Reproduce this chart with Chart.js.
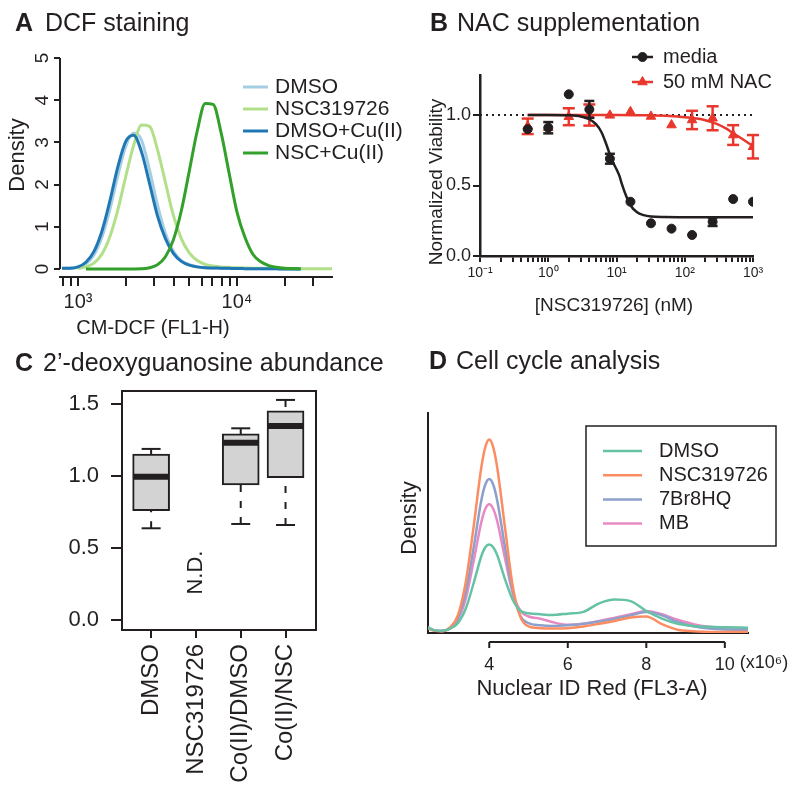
<!DOCTYPE html>
<html>
<head>
<meta charset="utf-8">
<title>Figure</title>
<script src="https://cdn.jsdelivr.net/npm/chart.js@4.4.1/dist/chart.umd.min.js"></script>
<style>
  body { margin: 0; background: #fff; }
  #fig { position: relative; width: 800px; height: 797px; overflow: hidden; font-family: "Liberation Sans", Arial, sans-serif; color: #231f20; }
  #fig canvas { position: absolute; left: 0; top: 0; pointer-events: none; }
  .tag, .ttl { position: absolute; font-size: 25px; line-height: 25px; white-space: nowrap; }
  .tag { font-weight: bold; }
</style>
</head>
<body>
<div id="fig">
  <canvas id="chartA" width="800" height="797"></canvas>
  <canvas id="chartB" width="800" height="797"></canvas>
  <canvas id="chartC" width="800" height="797"></canvas>
  <canvas id="chartD" width="800" height="797"></canvas>
  <div class="tag" style="left:15px;top:10px">A</div>
  <div class="ttl" style="left:45px;top:10px">DCF staining</div>
  <div class="tag" style="left:430px;top:10px">B</div>
  <div class="ttl" style="left:457px;top:10px">NAC supplementation</div>
  <div class="tag" style="left:15px;top:350px">C</div>
  <div class="ttl" style="left:43px;top:350px">2’-deoxyguanosine abundance</div>
  <div class="tag" style="left:429px;top:348px">D</div>
  <div class="ttl" style="left:456px;top:348px">Cell cycle analysis</div>
</div>
<script>
// A: DCF staining, density vs CM-DCF (log axis)
const dcfX = [794, 891, 1000, 1122, 1259, 1413, 1585, 1778, 1995, 2239, 2512, 2818, 3162, 3548, 3981, 4467, 5012, 5623, 6310, 7079, 7943, 8913, 10000, 11220, 12589, 14125, 15849, 17783, 19953, 22387, 25119, 28184, 31623, 35481, 39811];
const dcfDMSO = [0.02, 0.02, 0.04, 0.12, 0.33, 0.75, 1.40, 2.20, 2.90, 3.22, 3.05, 2.35, 1.52, 0.85, 0.42, 0.20, 0.10, 0.05, 0.03, 0.025, 0.02, 0.015, 0.01, 0.008, 0.006, 0.005, 0.004, 0.003, 0.002, 0.001, 0, null, null, null, null];
const dcfNSC = [null, null, 0.014, 0.05, 0.14, 0.35, 0.76, 1.39, 2.18, 2.93, 3.41, 3.38, 2.83, 2.05, 1.27, 0.72, 0.38, 0.20, 0.11, 0.07, 0.05, 0.04, 0.03, 0.025, 0.02, 0.017, 0.015, 0.012, 0.01, 0.008, 0.006, 0.005, 0.004, 0.003, 0.003];
const dcfDMSOCu = [0.02, 0.02, 0.05, 0.16, 0.41, 0.89, 1.60, 2.41, 3.02, 3.17, 2.77, 2.03, 1.26, 0.72, 0.37, 0.18, 0.09, 0.05, 0.03, 0.025, 0.02, 0.015, 0.01, 0.008, 0.006, 0.005, 0.004, 0.003, 0.002, 0.001, 0, null, null, null, null];
const dcfNSCCu = [null, null, null, 0, 0, 0, 0, 0, 0, 0, 0.003, 0.03, 0.10, 0.29, 0.69, 1.38, 2.32, 3.27, 3.92, 3.90, 3.23, 2.28, 1.35, 0.75, 0.35, 0.17, 0.08, 0.04, 0.02, 0.01, 0.005, null, null, null, null];
const dcfLabels = ["DMSO", "NSC319726", "DMSO+Cu(II)", "NSC+Cu(II)"];
const dcfTicks = [800, 900, 1000, 2000, 3000, 4000, 5000, 6000, 7000, 8000, 9000, 10000, 20000, 30000];
const dcfMajor = [1000, 10000];
const dcfMajorLabels = ["10³", "10⁴"];
const densityTicks = [0, 1, 2, 3, 4, 5];

// B: NAC supplementation, viability vs dose (nM)
const nacDose = [0.5, 1, 2, 4, 8, 16, 32, 64, 128, 256, 512, 1000];
const mediaMean = [0.90, 0.91, 1.147, 1.04, 0.69, 0.385, 0.232, 0.194, 0.149, 0.243, 0.404, 0.385];
const mediaErr = [0, 0.04, 0, 0.06, 0.035, 0, 0, 0, 0, 0.03, 0, 0];
const nacMean = [0.92, 0.91, 0.988, 1.0, 0.998, 1.023, 0.99, 0.929, 0.965, 0.977, 0.858, 0.775];
const nacErr = [0.055, 0, 0.06, 0.075, 0, 0, 0, 0, 0.065, 0.085, 0.07, 0.083];
const mediaFitX = [0.5, 1, 2, 3, 4, 5, 6, 7, 8, 9, 10, 11, 12, 14, 16, 20, 25, 32, 50, 100, 1000];
const mediaFitY = [1.0, 1.0, 0.998, 0.99, 0.97, 0.935, 0.88, 0.80, 0.72, 0.66, 0.615, 0.57, 0.51, 0.42, 0.36, 0.31, 0.29, 0.28, 0.276, 0.275, 0.275];
const nacFitX = [0.5, 1, 2, 5, 10, 20, 30, 60, 100, 150, 200, 300, 400, 500, 700, 1000];
const nacFitY = [1.0, 1.0, 1.0, 1.0, 1.0, 0.999, 0.998, 0.993, 0.985, 0.975, 0.963, 0.935, 0.905, 0.875, 0.83, 0.78];
const refX = [0.1, 1000];
const refY = [1, 1];
const nacLabels = ["media", "50 mM NAC"];
const doseTicks = [0.1, 0.2, 0.3, 0.4, 0.5, 0.6, 0.7, 0.8, 0.9, 1, 2, 3, 4, 5, 6, 7, 8, 9, 10, 20, 30, 40, 50, 60, 70, 80, 90, 100, 200, 300, 400, 500, 600, 700, 800, 900, 1000];
const doseMajor = [0.1, 1, 10, 100, 1000];
const doseMajorLabels = ["10⁻¹", "10⁰", "10¹", "10²", "10³"];
const viabTicks = [0, 0.5, 1.0];

// C: 2'-deoxyguanosine abundance (box plots)
const dgCats = ["DMSO", "NSC319726", "Co(II)/DMSO", "Co(II)/NSC"];
const dgLow = [0.637, null, 0.667, 0.66];
const dgQ1 = [0.759, null, 0.9375, 0.988];
const dgMed = [0.995, null, 1.231, 1.347];
const dgQ3 = [1.153, null, 1.292, 1.453];
const dgHigh = [1.188, null, 1.331, 1.528];
const dgTicks = [0, 0.5, 1.0, 1.5];

// D: Cell cycle analysis, density vs Nuclear ID Red (x10^6)
const ccX = [2.44, 2.6, 2.8, 3.0, 3.2, 3.4, 3.6, 3.8, 3.9, 4.0, 4.1, 4.2, 4.4, 4.6, 4.8, 5.0, 5.3, 5.6, 6.0, 6.4, 6.8, 7.2, 7.6, 8.0, 8.4, 8.8, 9.2, 9.6, 10.0, 10.59];
const ccDMSO = [0.025, 0.012, 0.01, 0.02, 0.045, 0.11, 0.225, 0.35, 0.39, 0.402, 0.39, 0.355, 0.245, 0.15, 0.10, 0.09, 0.085, 0.082, 0.088, 0.096, 0.135, 0.152, 0.145, 0.10, 0.065, 0.042, 0.032, 0.028, 0.026, 0.024];
const ccNSC = [0.02, 0.01, 0.008, 0.025, 0.08, 0.23, 0.48, 0.755, 0.845, 0.879, 0.845, 0.755, 0.48, 0.21, 0.07, 0.03, 0.022, 0.02, 0.022, 0.03, 0.042, 0.055, 0.07, 0.075, 0.04, 0.015, 0.008, 0.005, 0.004, 0.004];
const cc7Br = [0.025, 0.012, 0.009, 0.022, 0.07, 0.185, 0.385, 0.605, 0.675, 0.70, 0.675, 0.605, 0.39, 0.19, 0.075, 0.045, 0.035, 0.032, 0.035, 0.042, 0.052, 0.065, 0.08, 0.095, 0.08, 0.05, 0.03, 0.02, 0.016, 0.015];
const ccMB = [0.025, 0.012, 0.009, 0.02, 0.06, 0.155, 0.325, 0.505, 0.565, 0.585, 0.565, 0.51, 0.34, 0.18, 0.10, 0.075, 0.065, 0.05, 0.038, 0.042, 0.055, 0.07, 0.085, 0.10, 0.085, 0.06, 0.04, 0.028, 0.022, 0.02];
const ccLabels = ["DMSO", "NSC319726", "7Br8HQ", "MB"];
const ccTicks = [4, 6, 8, 10];

const FONT = '"Liberation Sans", Arial, Helvetica, sans-serif';
const INK = "#231f20";
const RED = "#e8372c";
Chart.defaults.font.family = FONT;
Chart.defaults.color = INK;

function drawText(ctx, s, x, y, px, opts = {}) {
  ctx.save();
  ctx.font = `${px}px ${FONT}`;
  ctx.fillStyle = opts.color || INK;
  ctx.textAlign = opts.align || "center";
  ctx.textBaseline = "middle";
  ctx.translate(x, y);
  if (opts.rotate) ctx.rotate(opts.rotate);
  ctx.fillText(s, 0, 0);
  ctx.restore();
}

function drawLine(ctx, x1, y1, x2, y2, width, color) {
  ctx.save();
  ctx.beginPath();
  ctx.lineWidth = width;
  ctx.strokeStyle = color || INK;
  ctx.moveTo(x1, y1);
  ctx.lineTo(x2, y2);
  ctx.stroke();
  ctx.restore();
}

function pairs(xs, ys) {
  return xs.map((x, i) => ({ x, y: ys[i] }));
}

function fixedWidth(w) {
  return (scale) => { scale.width = w; };
}
function fixedHeight(h) {
  return (scale) => { scale.height = h; };
}
function setTicks(values) {
  return (scale) => { scale.ticks = values.map((v) => ({ value: v })); };
}
function tickLabel(v, majors, labels) {
  const i = majors.indexOf(v);
  return i < 0 ? "" : labels[i];
}

function baseOptions(padding) {
  return {
    responsive: false,
    animation: false,
    events: [],
    devicePixelRatio: 1,
    layout: { padding },
    plugins: { legend: { display: false }, tooltip: { enabled: false } },
  };
}

function curve(xs, ys, color, width, order) {
  return {
    data: pairs(xs, ys),
    borderColor: color,
    borderWidth: width,
    pointRadius: 0,
    cubicInterpolationMode: "monotone",
    fill: false,
    order,
  };
}

// ---------- A ----------
const dcfColors = ["#a6cee3", "#b2df8a", "#1f78b4", "#33a02c"];
const panelA = {
  id: "panelA",
  afterDraw(chart) {
    const { ctx, chartArea, scales } = chart;
    const y = scales.y;
    drawLine(ctx, chartArea.left, y.getPixelForValue(0), chartArea.left, y.getPixelForValue(5), 2);
    densityTicks.forEach((v) => {
      drawText(ctx, String(v), chartArea.left - 17, y.getPixelForValue(v), 19, { rotate: -Math.PI / 2 });
    });
    drawText(ctx, "Density", 18, 155, 22, { rotate: -Math.PI / 2 });
    drawText(ctx, "CM-DCF (FL1-H)", 153, 328, 20);
    dcfLabels.forEach((name, i) => {
      const ly = 87 + i * 22;
      drawLine(ctx, 243, ly, 268, ly, 3, dcfColors[i]);
      drawText(ctx, name, 275, ly, 21, { align: "left" });
    });
  },
};

new Chart(document.getElementById("chartA"), {
  type: "line",
  data: {
    datasets: [
      curve(dcfX, dcfDMSO, dcfColors[0], 3, 4),
      curve(dcfX, dcfNSC, dcfColors[1], 3, 3),
      curve(dcfX, dcfDMSOCu, dcfColors[2], 3, 2),
      curve(dcfX, dcfNSCCu, dcfColors[3], 3, 1),
    ],
  },
  options: {
    ...baseOptions({ left: 40, top: 58, right: 468, bottom: 480 }),
    scales: {
      x: {
        type: "logarithmic",
        min: 771,
        max: 39580,
        afterBuildTicks: setTicks(dcfTicks),
        afterFit: fixedHeight(40),
        border: { color: INK, width: 2 },
        grid: { drawOnChartArea: false, tickLength: 9, color: INK, lineWidth: 2 },
        ticks: { autoSkip: false, maxRotation: 0, padding: 4, font: { size: 20 }, callback: (v) => tickLabel(v, dcfMajor, dcfMajorLabels) },
      },
      y: {
        type: "linear",
        min: -0.19,
        max: 5,
        afterBuildTicks: setTicks(densityTicks),
        afterFit: fixedWidth(20),
        border: { display: false },
        grid: { drawOnChartArea: false, tickLength: 6, color: INK, lineWidth: 2 },
        ticks: { display: false },
      },
    },
  },
  plugins: [panelA],
});

// ---------- B ----------
const errorBars = {
  id: "errorBars",
  afterDatasetDraw(chart, args) {
    const ds = chart.data.datasets[args.index];
    if (!ds.errors) return;
    const yScale = chart.scales.y;
    const ctx = chart.ctx;
    args.meta.data.forEach((pt, i) => {
      const err = ds.errors[i];
      if (!err) return;
      const v = ds.data[i].y;
      const top = yScale.getPixelForValue(v + err);
      const bot = yScale.getPixelForValue(v - err);
      const half = ds.capWidth / 2;
      drawLine(ctx, pt.x, top, pt.x, bot, 2.5, ds.barColor);
      drawLine(ctx, pt.x - half, top, pt.x + half, top, 2.5, ds.barColor);
      drawLine(ctx, pt.x - half, bot, pt.x + half, bot, 2.5, ds.barColor);
    });
  },
};

const panelB = {
  id: "panelB",
  afterDraw(chart) {
    const { ctx } = chart;
    drawText(ctx, "Normalized Viability", 437, 182, 19, { rotate: -Math.PI / 2 });
    drawText(ctx, "[NSC319726] (nM)", 614, 306, 19);
    const styles = [
      { color: INK, pointStyle: "circle", radius: 4.5 },
      { color: RED, pointStyle: "triangle", radius: 5.5 },
    ];
    nacLabels.forEach((name, i) => {
      const ly = 57 + i * 25;
      const s = styles[i];
      drawLine(ctx, 632, ly, 653, ly, 2.5, s.color);
      ctx.save();
      ctx.fillStyle = s.color;
      ctx.strokeStyle = s.color;
      Chart.helpers.drawPoint(ctx, { pointStyle: s.pointStyle, radius: s.radius, rotation: 0, borderWidth: 1 }, 642.5, ly);
      ctx.restore();
      drawText(ctx, name, 663, ly, 20, { align: "left" });
    });
  },
};

new Chart(document.getElementById("chartB"), {
  type: "line",
  data: {
    datasets: [
      { data: pairs(refX, refY), borderColor: INK, borderWidth: 2, borderDash: [2, 4], pointRadius: 0, order: 9 },
      curve(nacFitX, nacFitY, RED, 2.5, 5),
      {
        type: "scatter",
        data: pairs(nacDose, nacMean),
        pointStyle: "triangle",
        pointRadius: 5.5,
        pointBackgroundColor: RED,
        pointBorderColor: RED,
        errors: nacErr,
        barColor: RED,
        capWidth: 12,
        order: 4,
      },
      curve(mediaFitX, mediaFitY, INK, 2.5, 3),
      {
        type: "scatter",
        data: pairs(nacDose, mediaMean),
        pointStyle: "circle",
        pointRadius: 4.5,
        pointBackgroundColor: INK,
        pointBorderColor: INK,
        errors: mediaErr,
        barColor: INK,
        capWidth: 10,
        order: 1,
      },
    ],
  },
  options: {
    ...baseOptions({ left: 440, top: 75, right: 47, bottom: 511 }),
    scales: {
      x: {
        type: "logarithmic",
        min: 0.1,
        max: 1000,
        afterBuildTicks: setTicks(doseTicks),
        afterFit: fixedHeight(30),
        border: { color: INK, width: 2.5 },
        grid: { drawOnChartArea: false, tickLength: 6, color: INK, lineWidth: 2 },
        ticks: { autoSkip: false, maxRotation: 0, padding: 3, font: { size: 14 }, callback: (v) => tickLabel(v, doseMajor, doseMajorLabels) },
      },
      y: {
        type: "linear",
        min: 0,
        max: 1.284,
        afterBuildTicks: setTicks(viabTicks),
        afterFit: fixedWidth(40),
        border: { color: INK, width: 2.5 },
        grid: { drawOnChartArea: false, tickLength: 7, color: INK, lineWidth: 2 },
        ticks: { padding: 2, font: { size: 18 }, callback: (v) => v.toFixed(1) },
      },
    },
  },
  plugins: [errorBars, panelB],
});

// ---------- C ----------
const boxData = [];
const whiskerData = [];
const capData = [];
const medianData = [];
dgCats.forEach((name, i) => {
  if (dgMed[i] === null) return;
  const x = i + 1;
  boxData.push({ x, y: [dgQ1[i], dgQ3[i]] });
  whiskerData.push({ x, y: dgHigh[i] }, { x, y: dgQ3[i] }, { x, y: null });
  whiskerData.push({ x, y: dgLow[i] }, { x, y: dgQ1[i] }, { x, y: null });
  capData.push({ x, y: dgHigh[i] }, { x, y: dgLow[i] });
  medianData.push({ x, y: dgMed[i] });
});

const panelC = {
  id: "panelC",
  afterDraw(chart) {
    const { ctx, chartArea, scales } = chart;
    ctx.save();
    ctx.lineWidth = 2;
    ctx.strokeStyle = INK;
    ctx.strokeRect(chartArea.left, chartArea.top, chartArea.right - chartArea.left, chartArea.bottom - chartArea.top);
    ctx.restore();
    drawText(ctx, "N.D.", scales.x.getPixelForValue(2), scales.y.getPixelForValue(0.33), 22, { rotate: -Math.PI / 2 });
  },
};

new Chart(document.getElementById("chartC"), {
  type: "bar",
  data: {
    datasets: [
      {
        type: "line",
        data: whiskerData,
        borderColor: INK,
        borderWidth: 2,
        borderDash: [7, 9],
        pointRadius: 0,
        spanGaps: false,
        order: 4,
      },
      {
        data: boxData,
        backgroundColor: "#d3d3d3",
        borderColor: INK,
        borderWidth: 2,
        borderSkipped: false,
        barThickness: 37,
        order: 3,
      },
      {
        type: "scatter",
        data: capData,
        pointStyle: "line",
        pointRadius: 9.5,
        pointBorderWidth: 2,
        pointBorderColor: INK,
        order: 2,
      },
      {
        type: "scatter",
        data: medianData,
        pointStyle: "line",
        pointRadius: 17.5,
        pointBorderWidth: 6,
        pointBorderColor: INK,
        order: 1,
      },
    ],
  },
  options: {
    ...baseOptions({ left: 42, top: 391, right: 484, bottom: 2 }),
    scales: {
      x: {
        type: "linear",
        min: 0.35,
        max: 4.68,
        offset: false,
        afterBuildTicks: setTicks([1, 2, 3, 4]),
        afterFit: fixedHeight(165),
        border: { display: false },
        grid: { offset: false, drawOnChartArea: false, tickLength: 8, color: INK, lineWidth: 2 },
        ticks: { autoSkip: false, minRotation: 90, maxRotation: 90, padding: 6, font: { size: 24 }, callback: (v) => dgCats[v - 1] },
      },
      y: {
        type: "linear",
        min: -0.069,
        max: 1.59,
        afterBuildTicks: setTicks(dgTicks),
        afterFit: fixedWidth(80),
        border: { display: false },
        grid: { drawOnChartArea: false, tickLength: 11, color: INK, lineWidth: 2 },
        ticks: { padding: 12, font: { size: 22 }, callback: (v) => v.toFixed(1) },
      },
    },
  },
  plugins: [panelC],
});

// ---------- D ----------
const ccColors = ["#66c2a5", "#fc8d62", "#8da0cb", "#e78ac3"];
const panelD = {
  id: "panelD",
  afterDraw(chart) {
    const { ctx, chartArea, scales } = chart;
    const x = scales.x;
    const axisY = chartArea.bottom + 9;
    drawLine(ctx, x.getPixelForValue(ccTicks[0]), axisY, x.getPixelForValue(ccTicks[ccTicks.length - 1]), axisY, 2);
    ccTicks.forEach((v) => drawLine(ctx, x.getPixelForValue(v), axisY, x.getPixelForValue(v), axisY + 6, 2));
    drawText(ctx, "(x10⁶)", x.getPixelForValue(10) + 15, 663, 18, { align: "left" });
    drawText(ctx, "Density", 410, 518, 22, { rotate: -Math.PI / 2 });
    drawText(ctx, "Nuclear ID Red (FL3-A)", 592, 689, 22);
    ctx.save();
    ctx.lineWidth = 1.5;
    ctx.strokeStyle = INK;
    ctx.strokeRect(586, 426, 190, 120);
    ctx.restore();
    ccLabels.forEach((name, i) => {
      const ly = 451 + i * 24.2;
      drawLine(ctx, 603, ly, 642, ly, 2.5, ccColors[i]);
      drawText(ctx, name, 659, ly, 20, { align: "left" });
    });
  },
};

new Chart(document.getElementById("chartD"), {
  type: "line",
  data: {
    datasets: [
      curve(ccX, ccDMSO, ccColors[0], 2.5, 1),
      curve(ccX, ccNSC, ccColors[1], 2.5, 2),
      curve(ccX, cc7Br, ccColors[2], 2.5, 3),
      curve(ccX, ccMB, ccColors[3], 2.5, 4),
    ],
  },
  options: {
    ...baseOptions({ left: 400, top: 413, right: 52, bottom: 104 }),
    scales: {
      x: {
        type: "linear",
        min: 2.44,
        max: 10.59,
        afterBuildTicks: setTicks(ccTicks),
        afterFit: fixedHeight(60),
        border: { color: INK, width: 2 },
        grid: { display: false, drawTicks: false },
        ticks: { autoSkip: false, maxRotation: 0, padding: 21, font: { size: 18 }, callback: (v) => String(v) },
      },
      y: {
        type: "linear",
        min: 0,
        max: 1,
        afterFit: fixedWidth(28),
        border: { color: INK, width: 2 },
        grid: { display: false, drawTicks: false },
        ticks: { display: false },
      },
    },
  },
  plugins: [panelD],
});
</script>
</body>
</html>
